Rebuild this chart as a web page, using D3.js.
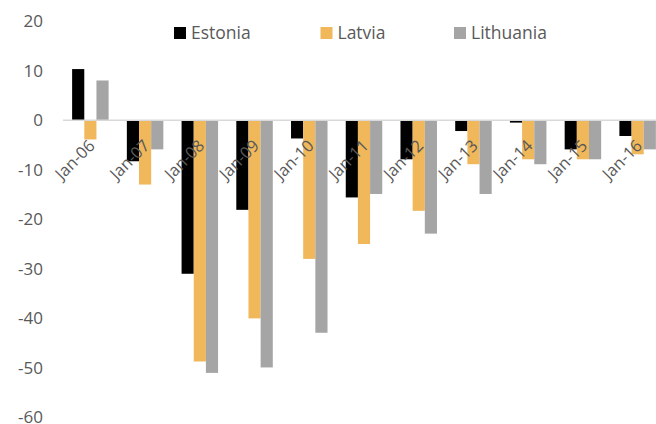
<!DOCTYPE html>
<html>
<head>
<meta charset="utf-8">
<script src="https://cdn.jsdelivr.net/npm/d3@7"></script>
<style>
  html, body { margin: 0; padding: 0; background: #fff; }
  svg { display: block; font-family: "Open Sans", "Noto Sans", sans-serif; }
</style>
</head>
<body>
<svg id="chart" width="656" height="424"></svg>
<script>
// Categories and series values
const categories = ["Jan-06","Jan-07","Jan-08","Jan-09","Jan-10","Jan-11","Jan-12","Jan-13","Jan-14","Jan-15","Jan-16"];
const seriesNames = ["Estonia","Latvia","Lithuania"];
const estonia   = [10.3, -8.3, -31.0, -18.1, -3.7, -15.6, -7.9, -2.2, -0.5, -5.9, -3.2];
const latvia    = [-3.9, -13.0, -48.7, -40.0, -28.0, -25.0, -18.3, -8.9, -7.9, -7.9, -6.9];
const lithuania = [8.0, -5.9, -51.0, -49.9, -42.9, -14.9, -22.9, -14.9, -8.9, -7.9, -5.9];
const yTicks = [20, 10, 0, -10, -20, -30, -40, -50, -60];

const seriesValues = [estonia, latvia, lithuania];
const colors = ["#000000", "#f0b75b", "#a5a5a5"];

const svg = d3.select("#chart");

const x = d3.scaleBand().domain(categories).range([63, 665]).paddingInner(0).paddingOuter(0);
const xInner = d3.scaleBand().domain(seriesNames).range([0, x.bandwidth()]).paddingInner(0).paddingOuter(0.75);
const y = d3.scaleLinear().domain([-60, 20]).range([417.5, 21]);

// Y axis labels (plain hyphen minus)
const yAxis = d3.axisLeft(y).tickValues(yTicks).tickSize(0).tickPadding(0).tickFormat(d => String(d));
const gy = svg.append("g").attr("transform", "translate(43,0)").call(yAxis);
gy.select(".domain").remove();
gy.selectAll("text").attr("fill", "#595959").style("font-size", "17px")
  .style("font-family", "\"Open Sans\", sans-serif");

// Bars
const rows = categories.map((c, i) => ({ cat: c, vals: seriesValues.map((s, j) => ({ name: seriesNames[j], v: s[i], color: colors[j] })) }));
const groups = svg.append("g").selectAll("g").data(rows).join("g")
  .attr("transform", d => `translate(${x(d.cat)},0)`);
groups.selectAll("rect").data(d => d.vals).join("rect")
  .attr("x", d => xInner(d.name))
  .attr("width", xInner.bandwidth())
  .attr("y", d => Math.min(y(d.v), y(0)))
  .attr("height", d => Math.abs(y(d.v) - y(0)))
  .attr("fill", d => d.color);

// Zero baseline
svg.append("line").attr("x1", 63).attr("x2", 665).attr("y1", y(0)).attr("y2", y(0))
  .attr("stroke", "#d9d9d9").attr("stroke-width", 1.5);

// Category labels, rotated
const xAxis = d3.axisBottom(x).tickSize(0).tickPadding(0);
const gx = svg.append("g").attr("transform", `translate(0,${y(0)})`).call(xAxis);
gx.select(".domain").remove();
gx.selectAll("text")
  .attr("fill", "#595959")
  .style("font-size", "16.5px")
  .style("font-family", "\"Open Sans\", sans-serif")
  .attr("text-anchor", "end")
  .attr("dy", null)
  .attr("y", 0)
  .attr("dominant-baseline", "central")
  .attr("transform", "translate(1,22) rotate(-45)");

// Legend
const legendX = [174, 320.5, 454];
const legend = svg.append("g").selectAll("g").data(seriesNames).join("g")
  .attr("transform", (d, i) => `translate(${legendX[i]},27)`);
legend.append("rect").attr("width", 12).attr("height", 12).attr("fill", (d, i) => colors[i]);
legend.append("text").attr("x", 17).attr("y", 12).text(d => d)
  .attr("fill", "#595959").style("font-size", "17.5px")
  .style("font-family", "\"Open Sans\", sans-serif");
</script>
</body>
</html>
